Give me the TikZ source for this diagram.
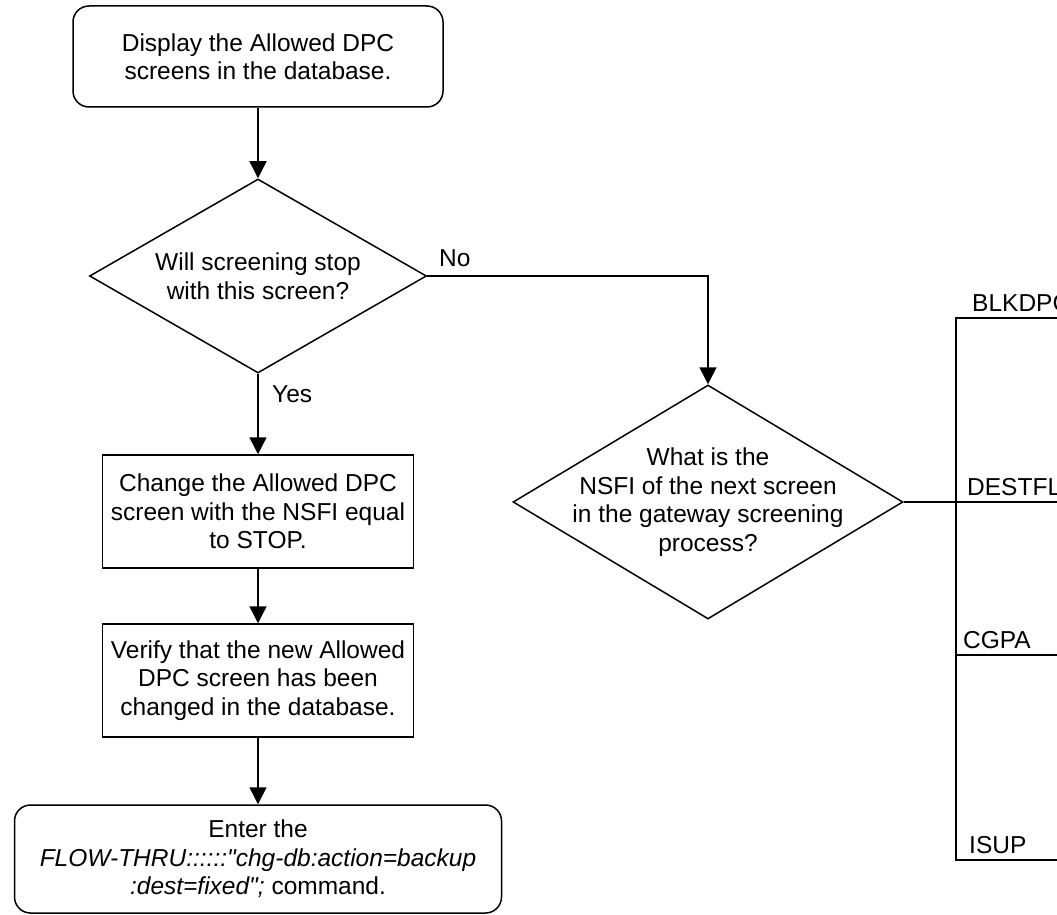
\documentclass[tikz,border=0pt]{standalone}
\usepackage{fontspec}
\setmainfont{Liberation Sans}[Ligatures=TeXOff]
\usetikzlibrary{shapes.geometric,arrows.meta}
\begin{document}
\begin{tikzpicture}[x=1pt,y=-1pt,
  every node/.style={font=\fontsize{24.5}{28.5}\selectfont},
  flow/.style={line width=1.5pt, draw=black},
  arr/.style={flow, -{Triangle[length=17pt,width=17pt]}},
  term/.style={draw, line width=1.5pt, rounded corners=16pt, align=center, inner sep=0pt},
  proc/.style={draw, line width=1.5pt, align=center, inner sep=0pt},
  dec/.style={draw, diamond, line width=1.5pt, inner sep=0pt},
  dtext/.style={align=center, inner sep=0pt},
  lbl/.style={anchor=base west, inner sep=0pt}]
\useasboundingbox (0,0) rectangle (1057,915);

% left column
\node[term, minimum width=370pt, minimum height=101pt] (start) at (258,56.5)
  {Display the Allowed DPC\\screens in the database.};
\node[dec, minimum width=337pt, minimum height=194pt] (d1) at (258,276) {};
\node[dtext] (d1t) at (d1.center) {Will screening stop\\with this screen?};
\node[proc, minimum width=311pt, minimum height=113pt] (chg) at (258,511.5)
  {Change the Allowed DPC\\screen with the NSFI equal\\to STOP.};
\node[proc, minimum width=311pt, minimum height=113pt] (ver) at (258,680.5)
  {Verify that the new Allowed\\DPC screen has been\\changed in the database.};
\node[term, minimum width=487pt, minimum height=108pt] (fin) at (258,859)
  {Enter the\\\textit{FLOW-THRU::::::"chg-db:action=backup}\\\textit{:dest=fixed";} command.};

% right decision
\node[dec, minimum width=390pt, minimum height=234pt] (d2) at (708,502) {};
\node[dtext] (d2t) at (d2.center) {What is the\\NSFI of the next screen\\in the gateway screening\\process?};

% labels
\node[lbl] (no) at (439,266) {No};
\node[lbl] (yes) at (272,402) {Yes};

% bar coordinates
\coordinate (bT) at (956,318);
\coordinate (bD) at (956,502);
\coordinate (bC) at (956,655);
\coordinate (bB) at (956,860);
\coordinate (bTr) at (1057,318);
\coordinate (bDr) at (1057,502);
\coordinate (bCr) at (1057,655);
\coordinate (bBr) at (1057,860);

% connectors
\draw[arr] (start) -- (d1);
\draw[arr] (d1) -- (chg);
\draw[arr] (chg) -- (ver);
\draw[arr] (ver) -- (fin);
\draw[arr] (d1.east) -| (d2.north);
\draw[flow, line width=2pt] (d2.east) -- (bD);
\draw[flow] (bTr) -- (bT) -- (bB) -- (bBr);
\draw[flow] (bD) -- (bDr);
\draw[flow] (bC) -- (bCr);

\begin{scope}
\clip (0,0) rectangle (1057,915);
\node[lbl] (blk) at (972,311) {BLKDPC};
\node[lbl] (dst) at (967,495) {DESTFLD};
\node[lbl] (cgp) at (963,648) {CGPA};
\node[lbl] (isu) at (969,853) {ISUP};
\end{scope}
\end{tikzpicture}
\end{document}
